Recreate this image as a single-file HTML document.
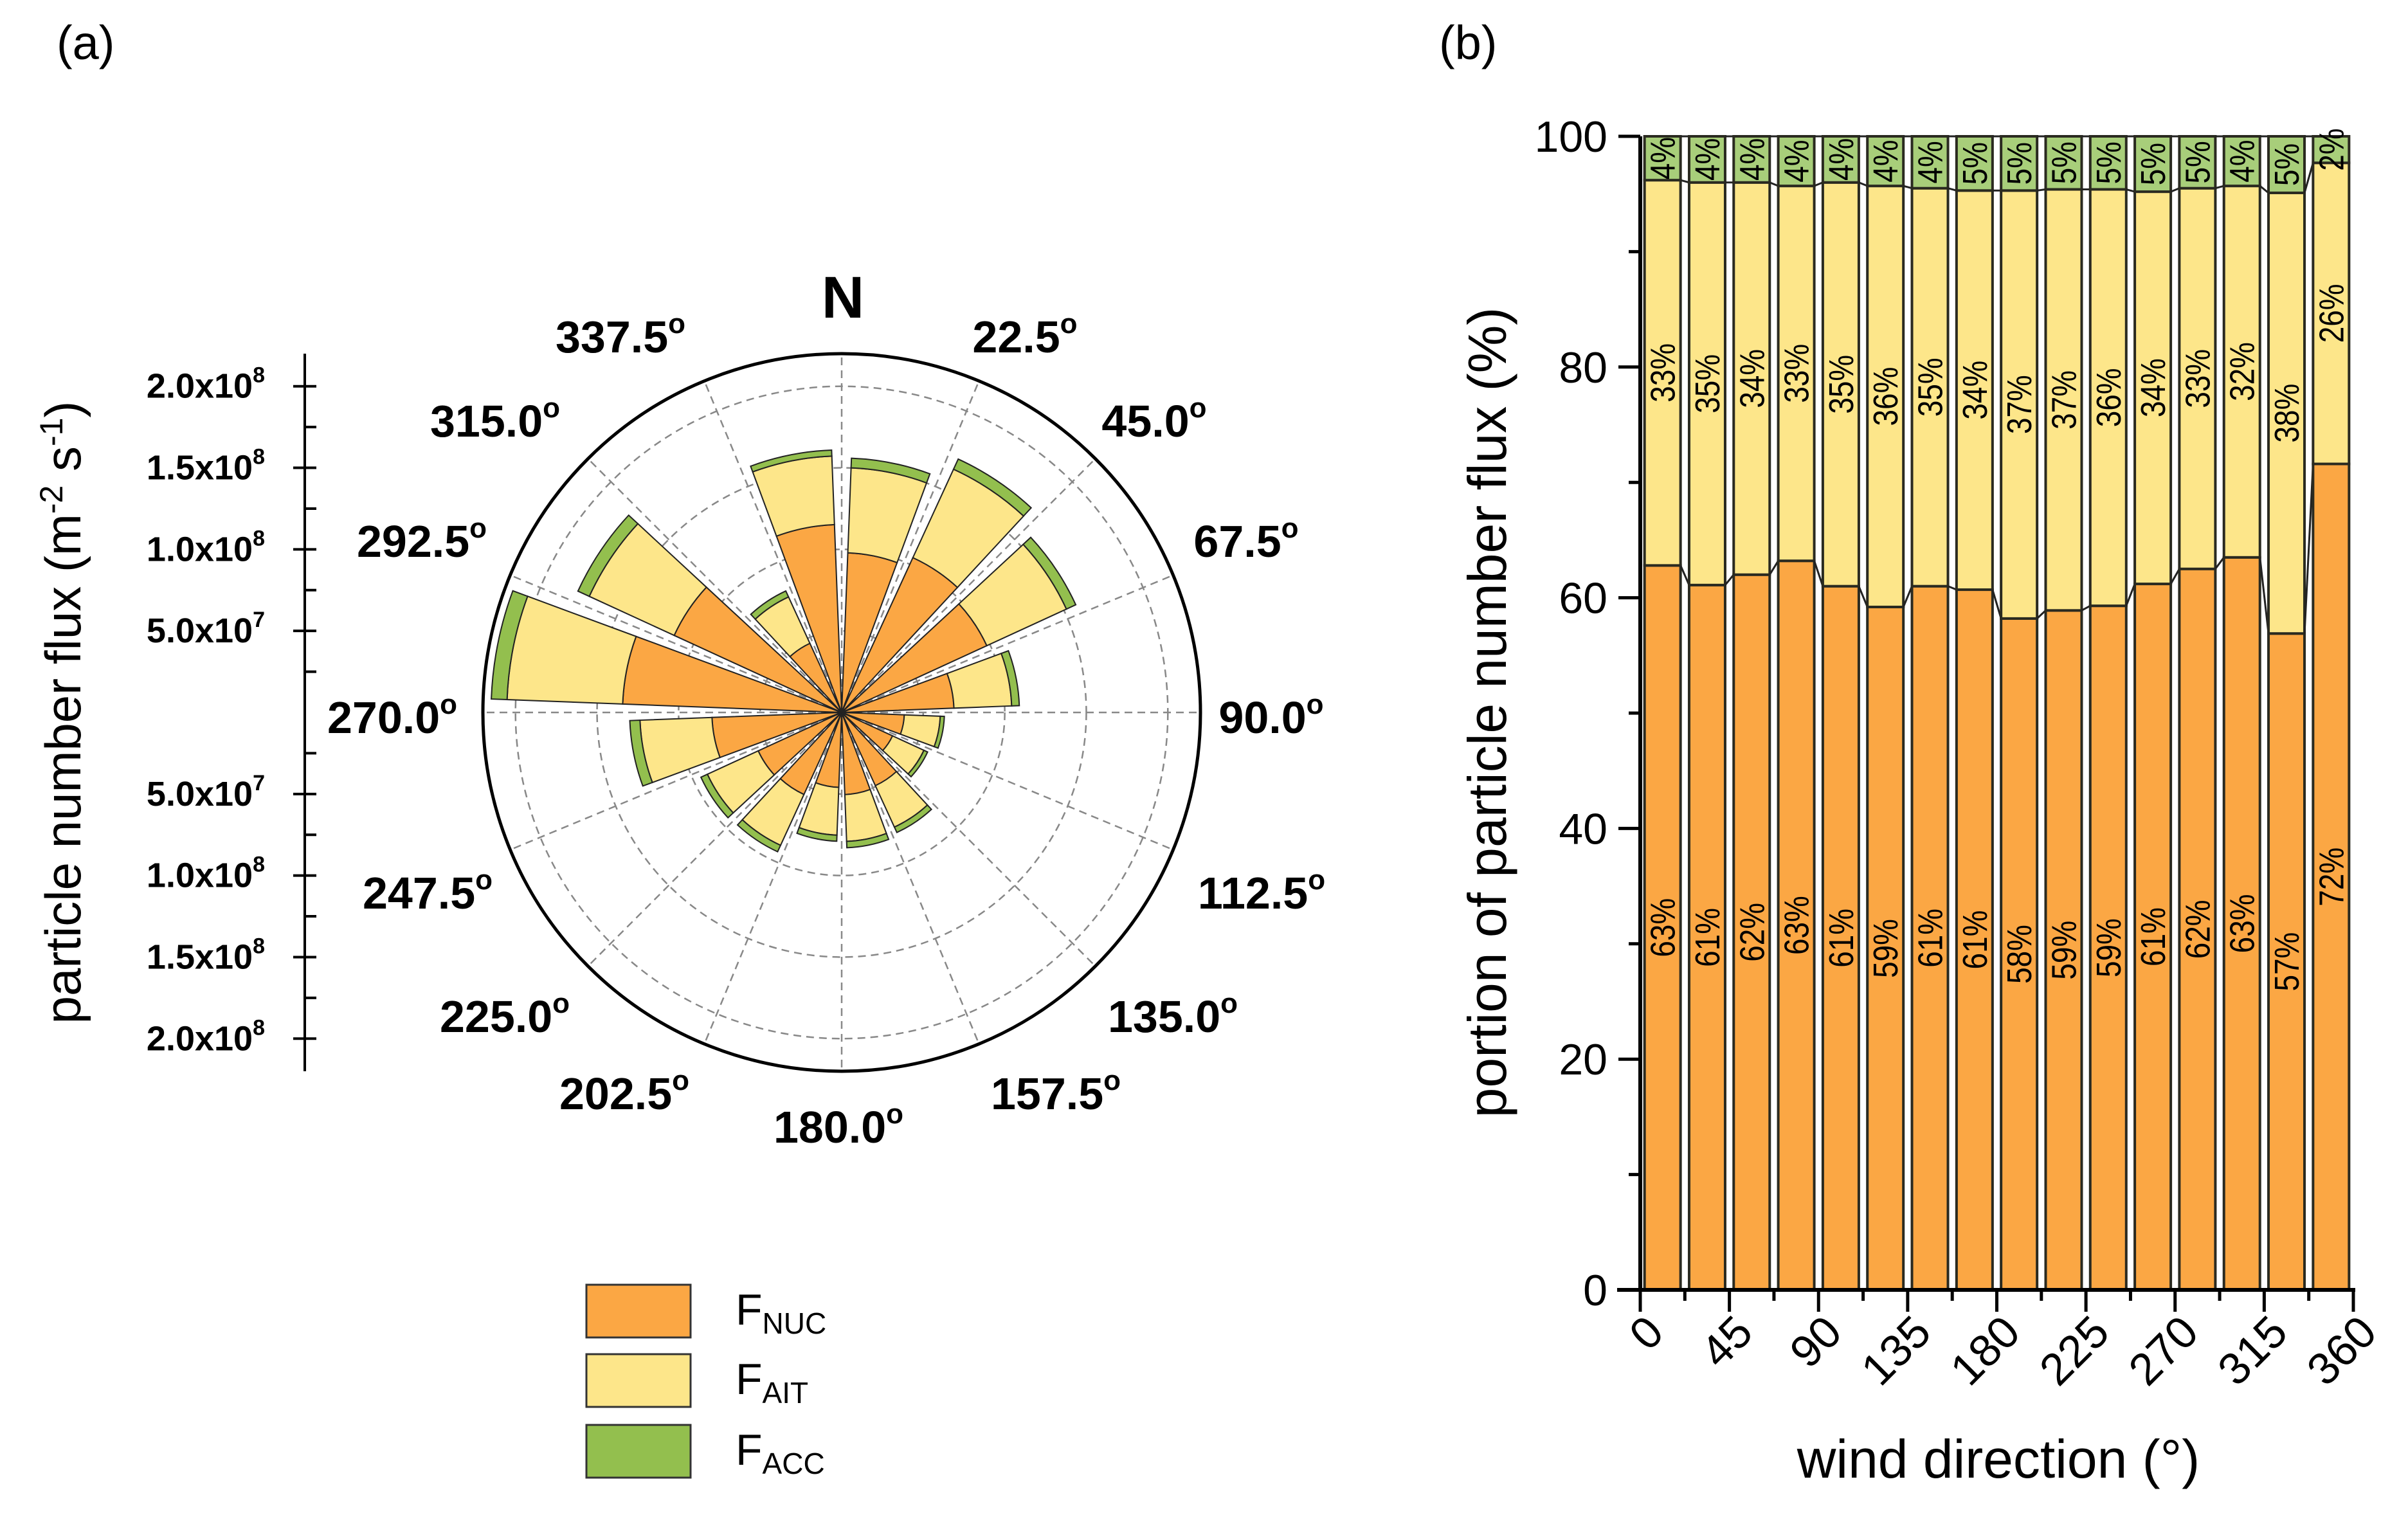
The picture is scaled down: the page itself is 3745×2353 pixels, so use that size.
<!DOCTYPE html>
<html><head><meta charset="utf-8"><style>
html,body{margin:0;padding:0;background:#fff}
svg{display:block}
text{font-family:"Liberation Sans",sans-serif}
</style></head><body>
<svg id="root" width="3745" height="2353" viewBox="0 0 3745 2353" xmlns="http://www.w3.org/2000/svg">
<text x="88" y="92" font-size="74">(a)</text>
<text x="2238" y="92" font-size="74">(b)</text>
<g id="polar"></g>
<g id="leftaxis"></g>
<g id="legend"></g>
<g id="bars"></g>
</svg>
<script>
// ---- data ----
const directions = [0,22.5,45,67.5,90,112.5,135,157.5,180,202.5,225,247.5,270,292.5,315,337.5];
const totalFlux = [15.6,17.1,15.8,10.9,6.3,5.8,8.1,8.3,7.9,9.4,9.5,13.0,21.5,17.8,8.2,16.1]; // x1e7 m-2 s-1
const nucPct = [62.8,61.1,62.0,63.2,61.0,59.2,61.0,60.7,58.2,58.9,59.3,61.2,62.5,63.5,56.9,71.6];
const aitTopPct = [96.2,96.0,96.0,95.7,96.0,95.7,95.5,95.3,95.3,95.4,95.4,95.2,95.5,95.7,95.1,97.7];
const nucLabels = ["63%","61%","62%","63%","61%","59%","61%","61%","58%","59%","59%","61%","62%","63%","57%","72%"];
const aitLabels = ["33%","35%","34%","33%","35%","36%","35%","34%","37%","37%","36%","34%","33%","32%","38%","26%"];
const accLabels = ["4%","4%","4%","4%","4%","4%","4%","5%","5%","5%","5%","5%","5%","4%","5%","2%"];
const yTicks = [0,20,40,60,80,100];
const xTicks = [0,45,90,135,180,225,270,315,360];
const radialTicks = [5,10,15,20];
const radialTickLabels = ["5.0x10","1.0x10","1.5x10","2.0x10"];
const radialTickExp = ["7","8","8","8"];
const compassLabels = ["N","22.5","45.0","67.5","90.0","112.5","135.0","157.5","180.0","202.5","225.0","247.5","270.0","292.5","315.0","337.5"];

const NS="http://www.w3.org/2000/svg";
function mk(tag,attrs,parent){const e=document.createElementNS(NS,tag);for(const k in attrs)e.setAttribute(k,attrs[k]);parent.appendChild(e);return e;}
const C_NUC="#FBA744",C_AIT="#FDE68A",C_ACC="#93BF4E",C_ACC2="#A8CE7A";

// ---- polar ----
const P=document.getElementById('polar');
const cx=1309,cy=1108,R=558,maxV=22;
const rs=v=>v/maxV*R;
const pt=(th,r)=>[cx+r*Math.sin(th*Math.PI/180),cy-r*Math.cos(th*Math.PI/180)];
let c0=mk('circle',{cx:cx,cy:cy,r:R,fill:'#fff',stroke:'#000','stroke-width':5},P);


radialTicks.forEach(v=>{
  let c=mk('circle',{cx:cx,cy:cy,r:rs(v),fill:'none',stroke:'#888','stroke-width':2.5,'stroke-dasharray':'12 8'},P);
  
  
});
directions.forEach(d=>{
  const [x,y]=pt(d,R);
  let l=mk('line',{x1:cx,y1:cy,x2:x,y2:y,stroke:'#888','stroke-width':2.5,'stroke-dasharray':'12 8'},P);
  
  
});
function sector(a0,a1,r0,r1){
  const p1=pt(a0,r1),p2=pt(a1,r1);
  let d=`M${pt(a0,r0).join(',')} L${p1.join(',')} A${r1},${r1} 0 0 1 ${p2.join(',')}`;
  if(r0>0){const q=pt(a0,r0),q2=pt(a1,r0);d+=` L${q2.join(',')} A${r0},${r0} 0 0 0 ${q.join(',')} Z`;}else d+=' Z';
  return d;
}
directions.forEach((d,i)=>{
  const a0=d+2.2,a1=d+22.5-2.2;
  const rN=rs(totalFlux[i]*nucPct[i]/100),rA=rs(totalFlux[i]*aitTopPct[i]/100),rT=rs(totalFlux[i]);
  let s1=mk('path',{d:sector(a0,a1,0,rN),fill:C_NUC,stroke:'#222','stroke-width':2},P);
  
  
  let s2=mk('path',{d:sector(a0,a1,rN,rA),fill:C_AIT,stroke:'#222','stroke-width':2},P);
  
  
  let s3=mk('path',{d:sector(a0,a1,rA,rT),fill:C_ACC,stroke:'#222','stroke-width':2},P);
  
  
});
const lp=[[1311,494],[1594,548],[1795,679],[1938,866],[1977,1140],[1962,1413],[1824,1605],[1642,1725],[1304,1777],[971,1725],[785,1605],[665,1413],[610,1140],[656,866],[770,679],[965,548]];
compassLabels.forEach((t,i)=>{
  const tx=mk('text',{x:lp[i][0],y:lp[i][1],'font-size':i===0?92:70,'font-weight':'bold','text-anchor':'middle'},P);
  tx.textContent=t;
  if(i>0){const s=mk('tspan',{dy:-30,'font-size':44},tx);s.textContent='o';}
  
  
});

// ---- left radial scale ----
const L=document.getElementById('leftaxis');
const ax=474;
mk('line',{x1:ax,y1:cy-rs(22),x2:ax,y2:cy+rs(22),stroke:'#000','stroke-width':4},L);
[-1,1].forEach(sg=>{
  for(let v=2.5;v<=20;v+=2.5){
    const y=cy+sg*rs(v);const major=(v%5===0);
    mk('line',{x1:major?ax-18:ax,y1:y,x2:ax+18,y2:y,stroke:'#000','stroke-width':4},L);
  }
  radialTicks.forEach((v,i)=>{
    const t=mk('text',{x:412,y:cy+sg*rs(v)+18,'font-size':54,'font-weight':'bold','text-anchor':'end'},L);
    t.textContent=radialTickLabels[i];
    const s=mk('tspan',{dy:-24,'font-size':34},t);s.textContent=radialTickExp[i];
    
    
  });
});
const yt=mk('text',{x:0,y:0,'font-size':78,'text-anchor':'middle',transform:`translate(125,${cy}) rotate(-90)`},L);
yt.innerHTML='particle number flux (m<tspan dy="-28" font-size="50">-2</tspan><tspan dy="28"> s</tspan><tspan dy="-28" font-size="50">-1</tspan><tspan dy="28">)</tspan>';



// ---- legend ----
const G=document.getElementById('legend');
[[C_NUC,'NUC',1998],[C_AIT,'AIT',2106],[C_ACC,'ACC',2216]].forEach(([c,s,y])=>{
  let r=mk('rect',{x:912,y:y,width:162,height:82,fill:c,stroke:'#333','stroke-width':3},G);
  
  
  let t=mk('text',{x:1144,y:y+62,'font-size':68},G);
  t.innerHTML='F<tspan dy="14" font-size="46">'+s+'</tspan>';
  
  
});

// ---- stacked bars ----
const B=document.getElementById('bars');
const X0=2551,X1=3660,Y0=2006,Y100=212;
const xs=d=>X0+d*(X1-X0)/360, ys=v=>Y0-v*(Y0-Y100)/100;
const bw=56;
directions.forEach((d,i)=>{
  const xc=xs(d+11.25),xl=xc-bw/2;
  const segs=[[0,nucPct[i],C_NUC,'bar-nuc'],[nucPct[i],aitTopPct[i],C_AIT,'bar-ait'],[aitTopPct[i],100,C_ACC2,'bar-acc']];
  segs.forEach(([a,b,c,n])=>{
    let r=mk('rect',{x:xl,y:ys(b),width:bw,height:ys(a)-ys(b),fill:c,stroke:'#2a2a20','stroke-width':4},B);
    
    
  });
  const labs=[[nucPct[i]/2,nucLabels[i]],[(nucPct[i]+aitTopPct[i])/2,aitLabels[i]],[(aitTopPct[i]+100)/2,accLabels[i]]];
  labs.forEach(([v,t])=>{
    let tx=mk('text',{x:0,y:0,'font-size':54,'text-anchor':'middle',transform:`translate(${xc+19},${ys(v)}) rotate(-90) scale(0.85,1)`,'font-family':'"Liberation Sans Narrow","Liberation Sans",sans-serif'},B);
    tx.textContent=t;
    
    
  });
  if(i<directions.length-1){
    const xn=xs(directions[i+1]+11.25)-bw/2;
    mk('line',{x1:xl+bw,y1:ys(nucPct[i]),x2:xn,y2:ys(nucPct[i+1]),stroke:'#222','stroke-width':3},B);
    mk('line',{x1:xl+bw,y1:ys(aitTopPct[i]),x2:xn,y2:ys(aitTopPct[i+1]),stroke:'#222','stroke-width':3},B);
    mk('line',{x1:xl+bw,y1:Y100,x2:xn,y2:Y100,stroke:'#222','stroke-width':3},B);
  }
});
mk('line',{x1:X0,y1:Y0+3,x2:X0,y2:Y100,stroke:'#000','stroke-width':6},B);
mk('line',{x1:X0-36,y1:Y0,x2:X1+3,y2:Y0,stroke:'#000','stroke-width':6},B);
for(let v=0;v<=100;v+=10){const major=v%20===0;mk('line',{x1:X0-(major?34:18),y1:ys(v),x2:X0,y2:ys(v),stroke:'#000','stroke-width':5},B);}
yTicks.forEach(v=>{
  let t=mk('text',{x:2500,y:ys(v)+24,'font-size':68,'text-anchor':'end'},B);
  t.textContent=v;
  
  
});
for(let d=0;d<=360;d+=22.5){const major=d%45===0;mk('line',{x1:xs(d),y1:Y0,x2:xs(d),y2:Y0+(major?34:17),stroke:'#000','stroke-width':5},B);}
xTicks.forEach(d=>{
  let t=mk('text',{x:0,y:0,'font-size':70,'text-anchor':'end',transform:`translate(${xs(d)+40},${Y0+70}) rotate(-45)`},B);
  t.textContent=d;
  
  
});
let xt=mk('text',{x:3108,y:2298,'font-size':84,'text-anchor':'middle'},B);
xt.textContent='wind direction (°)';


let yt2=mk('text',{x:0,y:0,'font-size':84,'text-anchor':'middle',transform:`translate(2342,1108) rotate(-90)`},B);
yt2.textContent='portion of particle number flux (%)';


</script>
</body></html>
